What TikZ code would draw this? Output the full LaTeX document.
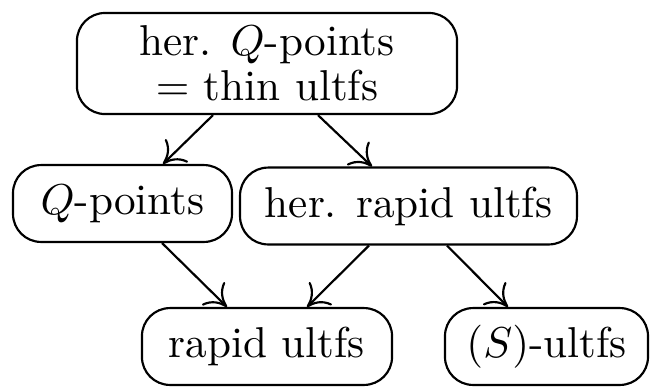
\documentclass[tikz,border=0pt]{standalone}
\usetikzlibrary{calc,arrows.meta}
\begin{document}
\begin{tikzpicture}[x=0.2315pt,y=-0.2315pt,line width=0.5pt,
  ultbox/.style={draw,rounded corners=6.5pt,inner sep=0pt,minimum height=17.8pt},
  imp/.style={-{Computer Modern Rightarrow[length=4.6pt,width=7.5pt]}}]
  \useasboundingbox (0,0) rectangle (650,386);
  \node[ultbox,align=center,minimum width=88pt,minimum height=23.4pt] (herq) at (267,63.5)
    {her. $Q$-points\\[-1.5pt] $=$ thin ultfs};
  \node[ultbox,minimum width=50.7pt] (qpt) at (122.5,203.5) {$Q$-points};
  \node[ultbox,minimum width=78pt] (herrap) at (408.5,206) {her. rapid ultfs};
  \node[ultbox,minimum width=57.9pt] (rap) at (267,346.5) {rapid ultfs};
  \node[ultbox,minimum width=47pt] (sult) at (546.5,346.5) {$(S)$-ultfs};
  % implications
  \draw[imp] ($(herq.south)+(-54,0)$) -- ($(qpt.north)+(40.5,0)$);
  \draw[imp] ($(herq.south)+(51,0)$) -- ($(herrap.north)+(-36.5,0)$);
  \draw[imp] ($(qpt.south)+(39.5,0)$) -- ($(rap.north)+(-40,0)$);
  \draw[imp] ($(herrap.south)+(-39.5,0)$) -- ($(rap.north)+(40,0)$);
  \draw[imp] ($(herrap.south)+(38.5,0)$) -- ($(sult.north)+(-38.5,0)$);
\end{tikzpicture}
\end{document}
